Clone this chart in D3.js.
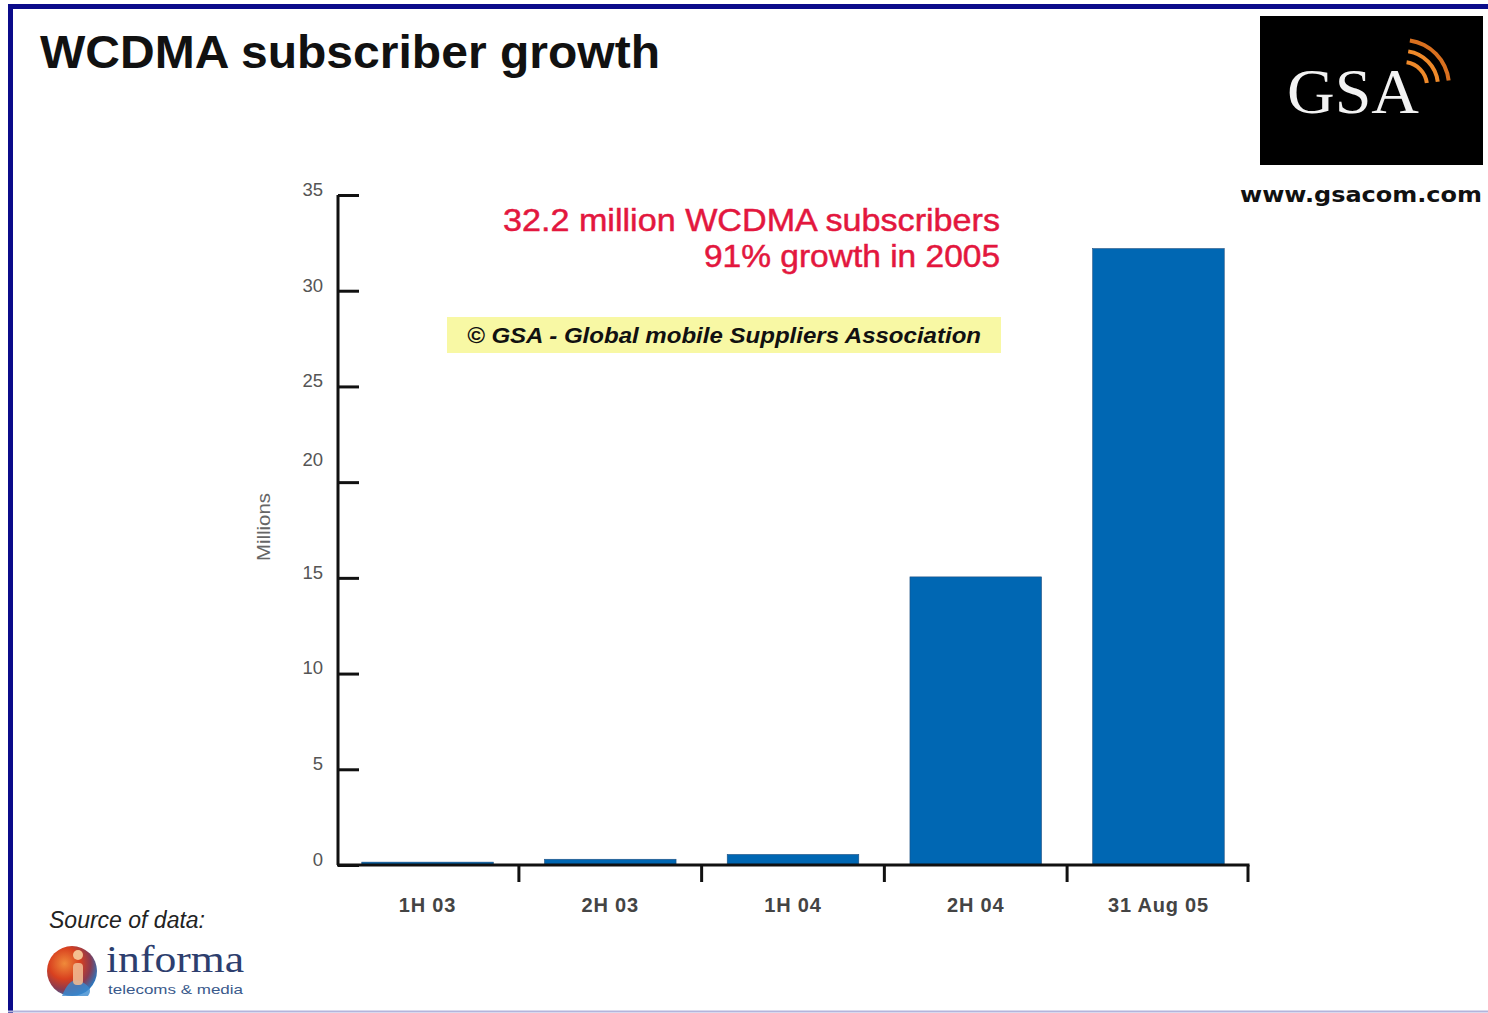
<!DOCTYPE html>
<html>
<head>
<meta charset="utf-8">
<script src="https://cdn.jsdelivr.net/npm/d3@7"></script>
<style>
  html, body { margin: 0; padding: 0; background: #fff; }
  svg { display: block; }
</style>
</head>
<body>
<svg id="chart" width="1488" height="1013"></svg>
<script>
const categories = ["1H 03", "2H 03", "1H 04", "2H 04", "31 Aug 05"];
const subscribers = [0.15, 0.3, 0.55, 15.05, 32.2];
const yTicks = [0, 5, 10, 15, 20, 25, 30, 35];
const titleText = "WCDMA subscriber growth";
const headline = ["32.2 million WCDMA subscribers", "91% growth in 2005"];
const copyrightText = "\u00A9 GSA - Global mobile Suppliers Association";
const yAxisLabel = "Millions";

const svg = d3.select("#chart");
const W = 1488, H = 1013;

// background + frame
svg.append("rect").attr("x", 0).attr("y", 0).attr("width", W).attr("height", H).attr("fill", "#fff");
svg.append("line").attr("x1", 8).attr("x2", W).attr("y1", 6.5).attr("y2", 6.5).attr("stroke", "#0b0b8a").attr("stroke-width", 5);
svg.append("line").attr("x1", 10.5).attr("x2", 10.5).attr("y1", 4).attr("y2", H).attr("stroke", "#0b0b8a").attr("stroke-width", 5);
svg.append("line").attr("x1", 8).attr("x2", W).attr("y1", 1011.5).attr("y2", 1011.5).attr("stroke", "#b4b4dc").attr("stroke-width", 2);

// title
svg.append("text").attr("x", 40).attr("y", 68).text(titleText)
  .attr("font-family", "Liberation Sans, Arial, sans-serif").attr("font-weight", "bold")
  .attr("font-size", 46).attr("fill", "#111")
  .attr("textLength", 620).attr("lengthAdjust", "spacingAndGlyphs");

// scales
const x = d3.scaleBand().domain(categories).range([338, 1248]).paddingInner(0.28).paddingOuter(0.13);
const y = d3.scaleLinear().domain([0, 35]).range([865, 195]);

// bars
svg.append("g").selectAll("rect").data(categories).join("rect")
  .attr("x", d => x(d))
  .attr("width", x.bandwidth())
  .attr("y", (d, i) => y(subscribers[i]))
  .attr("height", (d, i) => y(0) - y(subscribers[i]))
  .attr("fill", "#0067b3")
  .attr("stroke", "#1f4f80").attr("stroke-width", 0.6);

// y axis (ticks pointing inward)
const yAxis = d3.axisRight(y).tickValues(yTicks).tickSize(21).tickFormat("");
const gy = svg.append("g").attr("transform", "translate(338,0)").call(yAxis);
gy.select(".domain").attr("stroke", "#111").attr("stroke-width", 3).attr("d", `M0,${y(35)}V${y(0)}`);
gy.selectAll(".tick line").attr("stroke", "#111").attr("stroke-width", 3);
// y labels
svg.append("g").selectAll("text").data(yTicks).join("text")
  .attr("x", 323)
  .attr("y", d => y(d) + (d === 20 ? -18 : -1))
  .attr("dy", "0.1em")
  .attr("text-anchor", "end")
  .attr("font-family", "Liberation Sans, Arial, sans-serif")
  .attr("font-size", 18.5).attr("fill", "#555")
  .text(d => d);

svg.append("text").attr("transform", "translate(270,527) rotate(-90)")
  .attr("text-anchor", "middle")
  .attr("font-family", "Liberation Sans, Arial, sans-serif")
  .attr("font-size", 19).attr("fill", "#666")
  .attr("textLength", 68).attr("lengthAdjust", "spacingAndGlyphs")
  .text(yAxisLabel);

// x axis
const step = x.step();
const boundaries = categories.map(c => x(c) + x.bandwidth() + step * x.paddingInner() / 2);
boundaries[boundaries.length - 1] = x.range()[1];
const gx = svg.append("g");
gx.append("line").attr("x1", 337).attr("x2", x.range()[1] + 1.5).attr("y1", y(0)).attr("y2", y(0))
  .attr("stroke", "#111").attr("stroke-width", 3);
gx.selectAll("line.tk").data(boundaries).join("line").attr("class", "tk")
  .attr("x1", d => d).attr("x2", d => d).attr("y1", y(0)).attr("y2", y(0) + 17)
  .attr("stroke", "#111").attr("stroke-width", 3);
gx.selectAll("text").data(categories).join("text")
  .attr("x", d => x(d) + x.bandwidth() / 2)
  .attr("y", 912)
  .attr("text-anchor", "middle")
  .attr("font-family", "Liberation Sans, Arial, sans-serif")
  .attr("font-weight", "bold")
  .attr("font-size", 20).attr("fill", "#444")
  .attr("letter-spacing", 0.8)
  .text(d => d);

// red headline
const headlineWidths = [497, 296];
svg.append("g").selectAll("text").data(headline).join("text")
  .attr("x", 1000)
  .attr("y", (d, i) => 231 + i * 36)
  .attr("text-anchor", "end")
  .attr("font-family", "Liberation Sans, Arial, sans-serif")
  .attr("font-size", 32).attr("fill", "#e3173e")
  .attr("stroke", "#e3173e").attr("stroke-width", 0.5)
  .attr("textLength", (d, i) => headlineWidths[i]).attr("lengthAdjust", "spacingAndGlyphs")
  .text(d => d);

// copyright box
svg.append("rect").attr("x", 447).attr("y", 317).attr("width", 554).attr("height", 36).attr("fill", "#f8f8a4");
svg.append("text").attr("x", 724).attr("y", 343).attr("text-anchor", "middle")
  .attr("font-family", "Liberation Sans, Arial, sans-serif")
  .attr("font-weight", "bold").attr("font-style", "italic")
  .attr("font-size", 22).attr("fill", "#111")
  .attr("textLength", 514).attr("lengthAdjust", "spacingAndGlyphs")
  .text(copyrightText);

// GSA logo
const logo = svg.append("g");
logo.append("rect").attr("x", 1260).attr("y", 16).attr("width", 223).attr("height", 149).attr("fill", "#000");
logo.append("text").attr("x", 1287).attr("y", 113)
  .attr("font-family", "Liberation Serif, DejaVu Serif, serif")
  .attr("font-size", 64).attr("fill", "#f2f2f2")
  .attr("textLength", 132).attr("lengthAdjust", "spacingAndGlyphs")
  .text("GSA");
[0, 1, 2].forEach(i => {
  const r = 22 + i * 11;
  logo.append("path")
    .attr("d", d3.arc()({innerRadius: r, outerRadius: r + 4, startAngle: 0.15, endAngle: 1.45}))
    .attr("transform", "translate(1403,86)")
    .attr("fill", i === 2 ? "#d9701f" : "#ef8a2a");
});
svg.append("text").attr("x", 1361).attr("y", 202).attr("text-anchor", "middle")
  .attr("font-family", "DejaVu Sans, Verdana, sans-serif").attr("font-weight", "bold")
  .attr("font-size", 21).attr("fill", "#111")
  .attr("textLength", 242).attr("lengthAdjust", "spacingAndGlyphs")
  .text("www.gsacom.com");

// source
svg.append("text").attr("x", 49).attr("y", 928)
  .attr("font-family", "Liberation Sans, Arial, sans-serif").attr("font-style", "italic")
  .attr("font-size", 23).attr("fill", "#222")
  .text("Source of data:");

// informa logo
const defs = svg.append("defs");
const grad = defs.append("radialGradient").attr("id", "ig").attr("cx", "35%").attr("cy", "35%").attr("r", "70%");
grad.append("stop").attr("offset", "0%").attr("stop-color", "#f08a3a");
grad.append("stop").attr("offset", "45%").attr("stop-color", "#d8401f");
grad.append("stop").attr("offset", "75%").attr("stop-color", "#8a3a50");
grad.append("stop").attr("offset", "100%").attr("stop-color", "#2a78c0");
svg.append("circle").attr("cx", 72).attr("cy", 971).attr("r", 25).attr("fill", "url(#ig)");
svg.append("path").attr("d", "M62,996 Q70,975 82,982 Q94,988 88,996 Z").attr("fill", "#3a8ad0").attr("opacity", 0.8);
svg.append("circle").attr("cx", 78).attr("cy", 955).attr("r", 5).attr("fill", "#f4c090");
svg.append("rect").attr("x", 73).attr("y", 963).attr("width", 10).attr("height", 22).attr("rx", 4).attr("fill", "#f0b890").attr("opacity", 0.9);
svg.append("text").attr("x", 106).attr("y", 972)
  .attr("font-family", "Liberation Serif, DejaVu Serif, serif")
  .attr("font-size", 37).attr("fill", "#2d3e6e")
  .attr("textLength", 138).attr("lengthAdjust", "spacingAndGlyphs")
  .text("informa");
svg.append("text").attr("x", 108).attr("y", 994)
  .attr("font-family", "Liberation Sans, Arial, sans-serif")
  .attr("font-size", 13).attr("fill", "#3a5a8c")
  .attr("textLength", 135).attr("lengthAdjust", "spacingAndGlyphs")
  .text("telecoms & media");
</script>
</body>
</html>
